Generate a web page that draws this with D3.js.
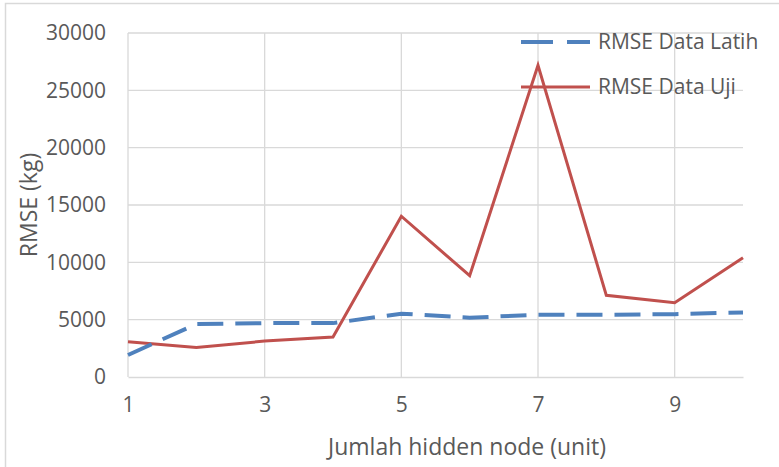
<!DOCTYPE html>
<html>
<head>
<meta charset="utf-8">
<script src="https://cdn.jsdelivr.net/npm/d3@7"></script>
<style>
  body { margin: 0; background: #fff; }
  text { font-family: "Open Sans", sans-serif; fill: #595959; }
</style>
</head>
<body>
<div id="chart"></div>
<script>
// data
var nodes = [1, 2, 3, 4, 5, 6, 7, 8, 9, 10];
var rmseLatih = [1920, 4620, 4700, 4700, 5520, 5170, 5430, 5430, 5480, 5630];
var rmseUji = [3080, 2580, 3130, 3480, 14020, 8830, 27180, 7120, 6470, 10390];
var yTicks = [0, 5000, 10000, 15000, 20000, 25000, 30000];
var xTicks = [1, 3, 5, 7, 9];
var seriesNames = ["RMSE Data Latih", "RMSE Data Uji"];

var width = 779, height = 467;
var plotLeft = 128, plotRight = 743, plotTop = 33, plotBottom = 377;

var svg = d3.select('#chart')
            .append('svg')
            .attr('width', width)
            .attr('height', height);

// chart border
svg.append('rect')
   .attr('x', 5.5).attr('y', 3.5)
   .attr('width', width + 10).attr('height', height + 10)
   .attr('fill', 'none')
   .attr('stroke', '#d9d9d9')
   .attr('stroke-width', 1.5);

var xScale = d3.scaleLinear().domain([1, 10]).range([plotLeft, plotRight]);
var yScale = d3.scaleLinear().domain([0, 30000]).range([plotBottom, plotTop]);

// gridlines
svg.append('g')
   .selectAll('line')
   .data(yTicks.slice(1))
   .enter().append('line')
   .attr('x1', plotLeft).attr('x2', plotRight)
   .attr('y1', function(d) { return yScale(d); })
   .attr('y2', function(d) { return yScale(d); })
   .attr('stroke', '#d9d9d9').attr('stroke-width', 1.3);

svg.append('g')
   .selectAll('line')
   .data(xTicks)
   .enter().append('line')
   .attr('x1', function(d) { return xScale(d); })
   .attr('x2', function(d) { return xScale(d); })
   .attr('y1', plotTop).attr('y2', plotBottom)
   .attr('stroke', '#d9d9d9').attr('stroke-width', 1.3);

// axes
var yAxis = d3.axisLeft(yScale)
              .tickValues(yTicks)
              .tickFormat(d3.format('d'))
              .tickSize(0)
              .tickPadding(22);
var xAxis = d3.axisBottom(xScale)
              .tickValues(xTicks)
              .tickFormat(d3.format('d'))
              .tickSize(0)
              .tickPadding(20);

var gy = svg.append('g')
            .attr('transform', 'translate(' + plotLeft + ',0)')
            .call(yAxis);
gy.select('.domain').remove();
gy.selectAll('text').style('font-size', '21px').attr('fill', '#595959');

var gx = svg.append('g')
            .attr('transform', 'translate(0,' + plotBottom + ')')
            .call(xAxis);
gx.select('.domain').attr('stroke', '#d9d9d9').attr('stroke-width', 1.3);
gx.selectAll('text').style('font-size', '21px').attr('fill', '#595959');

// axis titles
svg.append('text')
   .attr('x', 467)
   .attr('y', 455)
   .attr('text-anchor', 'middle')
   .style('font-size', '23px')
   .text('Jumlah hidden node (unit)');

svg.append('text')
   .attr('transform', 'translate(29,205) rotate(-90)')
   .attr('text-anchor', 'middle')
   .attr('dy', '0.35em')
   .style('font-size', '23px')
   .text('RMSE (kg)');

// lines
var line = d3.line()
             .x(function(d, i) { return xScale(nodes[i]); })
             .y(function(d) { return yScale(d); });

svg.append('path')
   .datum(rmseUji)
   .attr('d', line)
   .attr('fill', 'none')
   .attr('stroke', '#c0504d')
   .attr('stroke-width', 3);

svg.append('path')
   .datum(rmseLatih)
   .attr('d', line)
   .attr('fill', 'none')
   .attr('stroke', '#4f81bd')
   .attr('stroke-width', 4)
   .attr('stroke-dasharray', '26,12');

// legend
var legend = svg.append('g').attr('transform', 'translate(521,0)');
legend.append('line')
      .attr('x1', 0).attr('x2', 69).attr('y1', 42).attr('y2', 42)
      .attr('stroke', '#4f81bd').attr('stroke-width', 4)
      .attr('stroke-dasharray', '32,14');
legend.append('line')
      .attr('x1', 0).attr('x2', 69).attr('y1', 87).attr('y2', 87)
      .attr('stroke', '#c0504d').attr('stroke-width', 3);
legend.selectAll('text.leg')
      .data(seriesNames)
      .enter().append('text')
      .attr('class', 'leg')
      .attr('x', 77)
      .attr('y', function(d, i) { return 42 + i * 45; })
      .attr('dy', '0.35em')
      .style('font-size', '21px')
      .text(function(d) { return d; });
</script>
</body>
</html>
